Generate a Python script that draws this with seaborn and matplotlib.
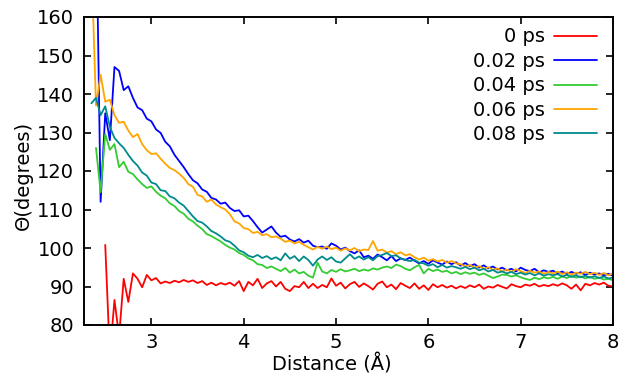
import numpy as np
import pandas as pd
import matplotlib

matplotlib.use("Agg")
import matplotlib.pyplot as plt
import seaborn as sns

# Sampling grid of the angle profile (Å), one value every 0.05 Å
distance = np.round(np.arange(2.35, 8.001, 0.05), 2)

# Mean angle (degrees), 10 samples per row (2.35, 2.85, 3.35 ...)
theta_0ps = [
    np.nan, np.nan, np.nan, 100.8, 72.0, 86.5, 77.0, 92.0, 86.0, 93.4,
    92.0, 89.8, 93.0, 91.6, 92.2, 90.8, 91.3, 90.9, 91.5, 91.1,
    91.7, 91.2, 91.6, 90.9, 91.4, 90.4, 91.0, 90.3, 90.9, 90.5,
    91.0, 90.2, 91.4, 88.8, 91.2, 90.3, 92.0, 89.6, 90.8, 91.4,
    90.0, 91.2, 89.4, 88.8, 90.1, 89.8, 91.2, 89.6, 90.7, 89.6,
    90.4, 89.8, 92.1, 90.2, 91.0, 89.5, 90.6, 91.2, 89.9, 90.8,
    90.1, 89.2, 90.7, 91.3, 89.8, 90.5, 89.3, 90.9, 90.2, 89.6,
    90.8, 89.4, 90.3, 89.1, 90.6, 89.8, 90.4, 89.7, 90.2, 89.5,
    90.1, 89.6, 90.3, 89.8, 90.5, 89.4, 90.0, 89.7, 90.4, 89.9,
    89.5, 90.6, 90.1, 89.8, 90.5, 90.2, 90.7, 90.0, 90.4, 90.1,
    90.6, 90.2, 90.8, 90.3, 89.4, 90.5, 89.0, 90.7, 90.3, 90.9,
    90.5, 91.0, 90.2, 90.0,
]
theta_002ps = [
    np.nan, 190.0, 112.0, 135.0, 128.0, 147.0, 146.0, 141.0, 142.0, 139.0,
    136.5, 135.8, 133.6, 132.9, 130.8, 129.9, 127.6, 126.4, 124.2, 122.6,
    121.0, 119.2, 117.6, 116.8, 115.2, 114.6, 113.0, 112.6, 111.5, 111.8,
    110.4, 109.6, 109.8, 108.2, 108.4, 107.0, 105.4, 104.0, 104.8, 105.6,
    104.0, 102.9, 103.2, 102.2, 101.7, 102.3, 101.4, 101.9, 100.6, 100.2,
    100.4, 99.8, 101.2, 100.6, 99.6, 100.1, 99.2, 98.6, 99.4, 97.6,
    98.0, 97.2, 98.3, 97.6, 96.8, 97.9, 96.6, 97.3, 96.9, 97.5,
    96.7, 96.0, 96.6, 95.9, 96.8, 96.2, 95.7, 96.5, 95.8, 96.3,
    95.4, 96.1, 95.3, 95.8, 94.9, 95.5, 94.7, 95.2, 94.4, 94.9,
    94.2, 94.6, 93.9, 94.9, 94.3, 94.0, 94.6, 93.7, 94.2, 93.8,
    94.1, 93.4, 93.9, 93.2, 93.8, 93.3, 93.7, 93.0, 93.6, 93.1,
    93.4, 92.9, 93.3, 92.8,
]
theta_004ps = [
    np.nan, 126.0, 114.5, 129.6, 125.5, 127.0, 121.0, 122.4, 119.8, 119.2,
    117.8, 116.6, 115.6, 116.0, 114.6, 113.6, 112.9, 111.6, 110.9, 109.6,
    108.9, 107.6, 106.9, 105.8, 104.9, 103.6, 103.1, 102.4, 101.7, 100.8,
    100.1, 99.6, 98.7, 98.2, 97.3, 96.8, 95.8, 95.6, 94.8, 95.2,
    94.6, 94.0, 94.8, 93.6, 94.4, 93.4, 93.8, 92.8, 92.3, 96.2,
    93.9, 93.4, 94.3, 93.8, 94.5, 93.9, 94.2, 94.6, 94.0, 94.4,
    94.1, 94.7, 94.4, 94.9, 95.2, 94.8, 95.7, 95.3, 94.6, 94.2,
    95.0, 95.6, 93.4, 94.6, 94.0, 94.4, 93.8, 94.1, 93.4, 93.8,
    93.2, 93.7, 93.3, 93.6, 93.0, 93.4, 92.8, 92.2, 92.6, 93.1,
    93.0, 92.6, 92.9, 92.4, 92.0, 91.7, 92.3, 91.9, 92.4, 92.1,
    92.5, 92.0, 92.6, 92.2, 92.7, 92.3, 92.6, 92.1, 92.5, 92.0,
    92.3, 91.8, 92.0, 91.6,
]
theta_006ps = [
    175.0, 137.0, 145.0, 138.0, 138.5, 134.5, 132.5, 132.8, 130.5, 128.8,
    129.6, 127.0, 125.4, 124.4, 124.6, 123.2, 121.9, 120.8, 120.2, 119.3,
    118.2, 116.6, 115.9, 113.8, 113.4, 112.0, 112.6, 111.3, 110.6, 110.0,
    108.8, 106.9, 106.4, 105.2, 104.9, 103.9, 104.2, 103.3, 103.6, 102.8,
    103.0, 102.4, 101.6, 101.9, 101.2, 101.6, 100.8, 100.2, 99.6, 100.3,
    99.8, 100.4, 99.7, 100.1, 99.3, 99.9, 99.4, 100.0, 99.2, 99.6,
    99.5, 101.8, 99.3, 99.6, 98.8, 99.2, 98.4, 98.9, 98.1, 98.4,
    97.6, 97.0, 97.5, 96.7, 97.1, 96.5, 96.9, 96.2, 96.6, 96.0,
    95.8, 95.2, 95.6, 94.9, 95.3, 94.6, 95.0, 94.3, 94.7, 93.9,
    94.4, 93.8, 94.5, 94.0, 93.5, 94.1, 93.6, 93.9, 93.3, 93.8,
    93.4, 93.9, 93.2, 93.7, 93.1, 93.6, 93.3, 93.8, 93.2, 93.6,
    93.0, 93.5, 92.9, 93.4,
]
theta_008ps = [
    137.6, 139.0, 134.5, 136.8, 131.5, 128.6, 127.2, 126.0, 124.2, 122.6,
    121.4, 119.6, 118.8, 117.0, 116.6, 115.0, 114.8, 113.4, 112.9, 111.8,
    111.0, 109.6, 108.2, 107.0, 106.6, 105.6, 104.4, 103.8, 103.0, 102.0,
    101.6, 100.6, 99.4, 98.9, 98.0, 97.6, 98.2, 97.4, 97.9, 97.1,
    97.6, 96.8, 98.6, 97.2, 97.9, 96.6, 97.8, 96.9, 95.4, 97.0,
    97.8, 96.9, 97.6, 96.5, 96.2, 97.3, 98.4, 97.2, 97.8, 97.0,
    97.6, 96.8, 97.9, 98.2, 98.7, 97.9, 98.1, 97.3, 96.9, 96.6,
    96.9, 96.2, 96.0, 95.4, 95.8, 95.0, 95.6, 94.9, 95.3, 95.0,
    94.6, 95.1, 94.5, 94.9, 94.2, 94.6, 93.9, 94.3, 93.6, 93.9,
    93.4, 93.8, 93.2, 93.6, 93.1, 93.5, 92.9, 93.4, 92.8, 93.2,
    92.9, 93.2, 92.6, 93.0, 92.5, 92.9, 92.4, 92.8, 92.3, 92.7,
    92.2, 92.6, 92.1, 92.3,
]

times = ["0 ps", "0.02 ps", "0.04 ps", "0.06 ps", "0.08 ps"]
series = [theta_0ps, theta_002ps, theta_004ps, theta_006ps, theta_008ps]
colors = ["#ff0000", "#0000ff", "#33cc33", "#ffa500", "#008b8b"]

frames = []
for label, values in zip(times, series):
    frames.append(pd.DataFrame({"distance": distance, "theta": values, "time": label}))
df = pd.concat(frames, ignore_index=True).dropna()

sns.set_style("ticks")
plt.rcParams.update(
    {
        "font.family": ["DejaVu Sans"],
        "font.size": 14,
        "axes.linewidth": 1.4,
        "xtick.direction": "in",
        "ytick.direction": "in",
        "xtick.major.size": 5,
        "ytick.major.size": 5,
        "xtick.major.width": 1.2,
        "ytick.major.width": 1.2,
        "xtick.color": "black",
        "ytick.color": "black",
        "axes.edgecolor": "black",
        "text.color": "black",
        "axes.labelcolor": "black",
    }
)

fig = plt.figure(figsize=(6.38, 3.76), dpi=100)
ax = fig.add_axes([84 / 638, 1 - 325 / 376, 529 / 638, 308 / 376])

sns.lineplot(
    data=df,
    x="distance",
    y="theta",
    hue="time",
    hue_order=times,
    palette=dict(zip(times, colors)),
    estimator=None,
    sort=False,
    lw=1.3,
    ax=ax,
)

ax.set_xlim(2.27, 8)
ax.set_ylim(80, 160)
ax.set_xticks([3, 4, 5, 6, 7, 8])
ax.set_yticks(range(80, 161, 10))
ax.tick_params(top=True, right=True, labelsize=14)
ax.tick_params(axis="y", pad=7)
ax.tick_params(axis="x", pad=6)

ax.set_xlabel("Distance (Å)", fontsize=14)
ax.set_ylabel("Θ(degrees)", fontsize=14)
ax.xaxis.set_label_coords((332 - 84) / 529, -0.093)
ax.yaxis.set_label_coords(-0.097, 0.484)

old = ax.get_legend()
handles = old.legend_handles
labels = [t.get_text() for t in old.get_texts()]
old.remove()
leg = ax.legend(
    handles,
    labels,
    loc="upper right",
    bbox_to_anchor=(0.970, 0.966),
    markerfirst=False,
    frameon=False,
    fontsize=14,
    borderpad=0,
    borderaxespad=0,
    labelspacing=0.28,
    handlelength=2.2,
    handletextpad=0.5,
)
for h in leg.legend_handles:
    h.set_linewidth(1.3)

fig.savefig("out.png", dpi=100)
